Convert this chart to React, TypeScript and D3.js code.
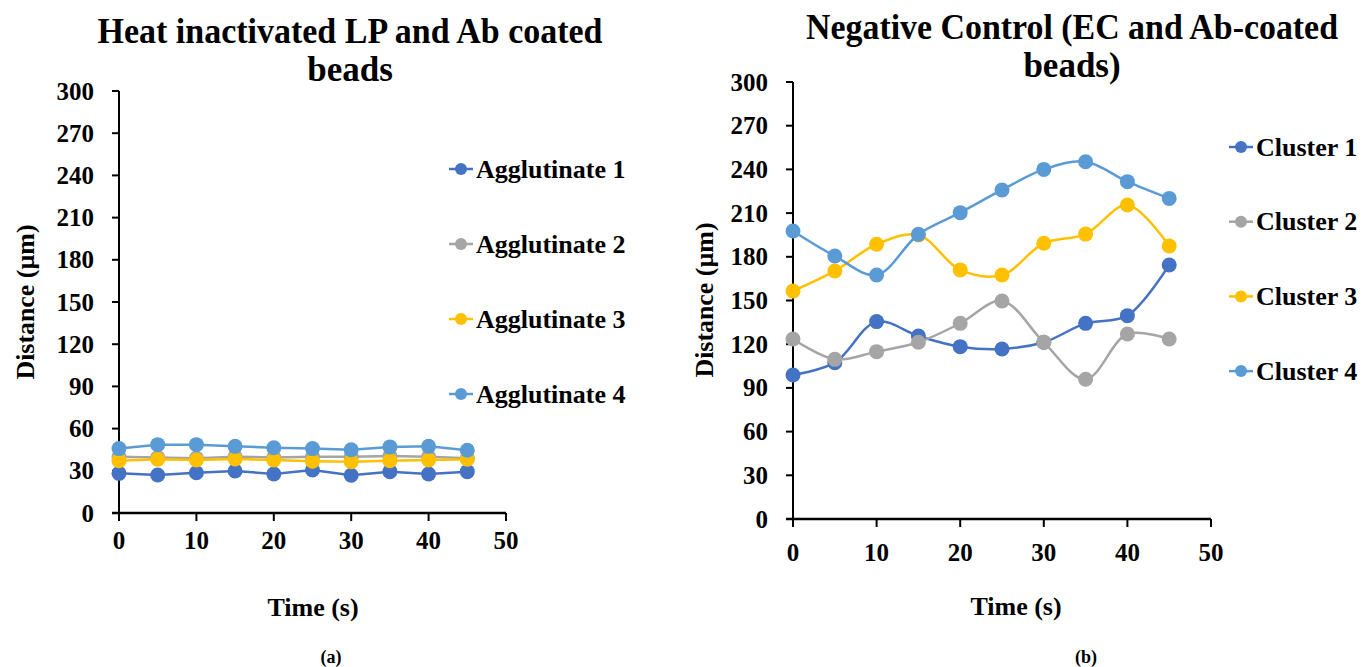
import React from "react";
import * as d3 from "d3";

const times = [0, 5, 10, 15, 20, 25, 30, 35, 40, 45];
const xTicks = [0, 10, 20, 30, 40, 50];
const yTicks = [0, 30, 60, 90, 120, 150, 180, 210, 240, 270, 300];

const leftNames = ["Agglutinate 1", "Agglutinate 2", "Agglutinate 3", "Agglutinate 4"];
const agg1 = [28.2, 27.0, 28.6, 29.9, 27.7, 30.6, 26.8, 29.4, 27.7, 29.4];
const agg2 = [40, 39.5, 39, 40, 39.5, 40, 40, 40.5, 40, 39];
const agg3 = [37.2, 38.2, 37.7, 38.4, 37.7, 36.8, 36.5, 37.2, 37.7, 38.2];
const agg4 = [45.8, 48.6, 48.6, 47.4, 46.4, 45.8, 45.0, 47.0, 47.4, 44.6];

const rightNames = ["Cluster 1", "Cluster 2", "Cluster 3", "Cluster 4"];
const cl1 = [98.9, 107.3, 135.5, 125.6, 118.3, 116.7, 121.3, 134.3, 139.6, 174.4];
const cl2 = [123.6, 109.6, 114.9, 121.3, 134.3, 149.7, 121.3, 95.9, 127.0, 123.6];
const cl3 = [156.5, 170.3, 188.6, 195.0, 171.0, 167.5, 189.3, 195.6, 215.6, 187.4];
const cl4 = [197.7, 180.5, 167.5, 195.4, 210.3, 225.9, 240.0, 245.3, 231.6, 220.1];

const colors = ["#4472C4", "#A5A5A5", "#FFC000", "#5B9BD5"];
const FONT = "'Liberation Serif', 'Times New Roman', serif";

type PanelProps = {
  x0: number; x1: number; y0: number; y1: number;
  series: number[][]; names: string[];
  xLabelBase: number;
  legendX: number; legendY: number; legendGap: number;
  title: string[]; titleX: number; titleY: number; titleLen: number;
  yTitleX: number; yTitleY: number;
  xTitleX: number; xTitleY: number;
  panelLabel: string; panelLabelX: number;
  curve: any;
};

function Panel(p: PanelProps) {
  const x = d3.scaleLinear().domain([0, 50]).range([p.x0, p.x1]);
  const y = d3.scaleLinear().domain([0, 300]).range([p.y0, p.y1]);
  const line = d3.line<number>().x((_, i) => x(times[i])).y((d) => y(d)).curve(p.curve);
  return (
    <g fontFamily={FONT} fontWeight="bold" fill="#000">
      <text x={p.titleX} y={p.titleY} fontSize={35} textAnchor="middle" textLength={p.titleLen} lengthAdjust="spacingAndGlyphs">{p.title[0]}</text>
      <text x={p.titleX} y={p.titleY + 38} fontSize={35} textAnchor="middle">{p.title[1]}</text>
      {/* y axis */}
      <line x1={p.x0} x2={p.x0} y1={y(0)} y2={y(300)} stroke="#000" strokeWidth={2} />
      {yTicks.map((t) => (
        <g key={t}>
          <line x1={p.x0 - 7} x2={p.x0} y1={y(t)} y2={y(t)} stroke="#000" strokeWidth={2} />
          <text x={p.x0 - 25} y={y(t) + 8.5} fontSize={25} textAnchor="end">{t}</text>
        </g>
      ))}
      {/* x axis */}
      <line x1={p.x0 - 7} x2={x(50)} y1={y(0)} y2={y(0)} stroke="#000" strokeWidth={2.5} />
      {xTicks.map((t) => (
        <g key={t}>
          <line x1={x(t)} x2={x(t)} y1={y(0)} y2={y(0) + 8} stroke="#000" strokeWidth={2} />
          <text x={x(t)} y={p.xLabelBase} fontSize={25} textAnchor="middle">{t}</text>
        </g>
      ))}
      <text transform={`translate(${p.yTitleX},${p.yTitleY}) rotate(-90)`} fontSize={26} textAnchor="middle" textLength={155} lengthAdjust="spacingAndGlyphs">Distance (µm)</text>
      <text x={p.xTitleX} y={p.xTitleY} fontSize={26} textAnchor="middle">Time (s)</text>
      <text x={p.panelLabelX} y={663} fontSize={18} textAnchor="middle">{p.panelLabel}</text>
      {/* series */}
      {p.series.map((s, si) => (
        <g key={si}>
          <path d={line(s) || ""} fill="none" stroke={colors[si]} strokeWidth={2.5} />
          {s.map((v, i) => (
            <circle key={i} cx={x(times[i])} cy={y(v)} r={7.5} fill={colors[si]} />
          ))}
        </g>
      ))}
      {/* legend */}
      {p.names.map((n, i) => {
        const ly = p.legendY + i * p.legendGap;
        return (
          <g key={n}>
            <line x1={p.legendX} x2={p.legendX + 24} y1={ly} y2={ly} stroke={colors[i]} strokeWidth={2.5} />
            <circle cx={p.legendX + 12} cy={ly} r={6} fill={colors[i]} />
            <text x={p.legendX + 27} y={ly + 8.5} fontSize={26}>{n}</text>
          </g>
        );
      })}
    </g>
  );
}

export default function App() {
  return (
    <svg width={1365} height={667} style={{ position: "absolute", left: 0, top: 0, background: "#fff" }}>
      <rect width={1365} height={667} fill="#fff" />
      <Panel
        x0={119} x1={506} y0={513} y1={91}
        series={[agg1, agg2, agg3, agg4]} names={leftNames}
        xLabelBase={549}
        legendX={449} legendY={169} legendGap={75}
        title={["Heat inactivated LP and Ab coated", "beads"]} titleX={350} titleY={43} titleLen={505}
        yTitleX={34} yTitleY={302}
        xTitleX={313} xTitleY={616}
        panelLabel="(a)" panelLabelX={331}
        curve={d3.curveLinear}
      />
      <Panel
        x0={793} x1={1211} y0={519} y1={82}
        series={[cl1, cl2, cl3, cl4]} names={rightNames}
        xLabelBase={561}
        legendX={1229} legendY={147} legendGap={74.7}
        title={["Negative Control (EC and Ab-coated", "beads)"]} titleX={1072} titleY={39} titleLen={532}
        yTitleX={713} yTitleY={300}
        xTitleX={1016} xTitleY={615}
        panelLabel="(b)" panelLabelX={1086}
        curve={d3.curveCatmullRom.alpha(0.5)}
      />
    </svg>
  );
}
